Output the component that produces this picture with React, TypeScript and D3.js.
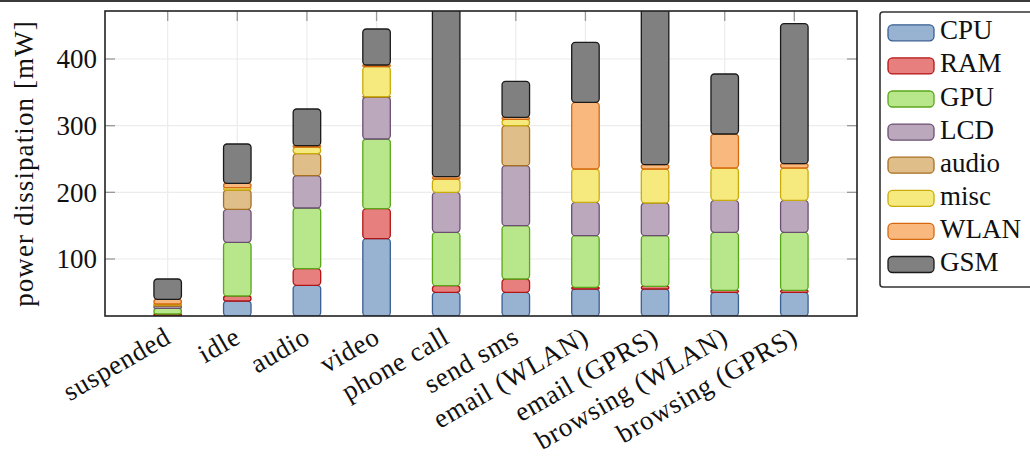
import React from 'react';
import * as d3 from 'd3';

const categories = ['suspended', 'idle', 'audio', 'video', 'phone call', 'send sms', 'email (WLAN)', 'email (GPRS)', 'browsing (WLAN)', 'browsing (GPRS)'];
const seriesNames = ['CPU', 'RAM', 'GPU', 'LCD', 'audio', 'misc', 'WLAN', 'GSM'];
const cpu = [15.5, 37, 60.5, 130.5, 50, 50, 55, 55, 50, 50];
const ram = [2, 7.5, 25, 45, 10, 20, 2.5, 4, 3, 3];
const gpu = [8.5, 80.5, 91, 104.5, 80, 80, 77.5, 76, 87, 87];
const lcd = [3.5, 49.5, 48.5, 63, 60, 90, 50, 49, 48, 48];
const audio = [1.5, 29, 33, 0.5, 0, 60, 0, 0, 0, 0];
const misc = [1.5, 3.5, 10, 45, 20, 9.5, 50, 51, 48.5, 48.5];
const wlan = [7, 6.5, 2, 2.5, 3.5, 3, 100, 6.5, 51, 6.5];
const gsm = [30.5, 59, 55, 54, 900, 54, 90, 400, 90, 210];
const yTicks = [100, 200, 300, 400];
const fills = ['#98b2d1', '#e77f7f', '#b8e68a', '#bba8bc', '#dfbe8a', '#f6e97e', '#f9b97e', '#808080'];
const strokes = ['#3b5f92', '#b21414', '#5aa61a', '#6b4f72', '#a66f20', '#c8ac0c', '#d6680f', '#1a1a1a'];

const W = 1030, H = 459;
const L = 105, R = 857, T = 11, B = 316;
const FONT = '"Liberation Serif", "Times New Roman", serif';
const FS = 27;

export default function App() {
  const seriesVals = [cpu, ram, gpu, lcd, audio, misc, wlan, gsm];
  const table = categories.map((c, i) => {
    const row: any = { cat: c };
    seriesNames.forEach((s, k) => { row[s] = seriesVals[k][i]; });
    return row;
  });
  const stacked = d3.stack<any>().keys(seriesNames)(table);
  const yMin = 14.5, yMax = 472;
  const y = d3.scaleLinear().domain([yMin, yMax]).range([B, T]);
  const x = d3.scalePoint<string>().domain(categories).range([L, R]).padding(0.9);
  const bw = 27.5;

  return (
    <svg width={W} height={H} style={{ position: 'absolute', left: 0, top: 0, background: '#fff' }}>
      <defs>
        <clipPath id="plotclip">
          <rect x={L} y={T} width={R - L} height={B - T} />
        </clipPath>
      </defs>
      <rect x={0} y={0} width={W} height={H} fill="#fff" />
      <line x1={0} x2={W} y1={1} y2={1} stroke="#3a3a3a" strokeWidth={2} />
      {/* grid */}
      {yTicks.map(t => (
        <line key={'gy' + t} x1={L} x2={R} y1={y(t)} y2={y(t)} stroke="#ececec" strokeWidth={1.2} />
      ))}
      {categories.map(c => (
        <line key={'gx' + c} x1={x(c)} x2={x(c)} y1={T} y2={B} stroke="#ececec" strokeWidth={1.2} />
      ))}
      {/* ticks */}
      {yTicks.map(t => (
        <g key={'ty' + t}>
          <line x1={L} x2={L + 10} y1={y(t)} y2={y(t)} stroke="#9a9a9a" strokeWidth={1.3} />
          <line x1={R - 10} x2={R} y1={y(t)} y2={y(t)} stroke="#9a9a9a" strokeWidth={1.3} />
          <text x={97} y={y(t)} dy="0.34em" textAnchor="end" fontFamily={FONT} fontSize={FS} fill="#111">{t}</text>
        </g>
      ))}
      {categories.map(c => (
        <line key={'tx' + c} x1={x(c)} x2={x(c)} y1={T} y2={T + 10} stroke="#9a9a9a" strokeWidth={1.3} />
      ))}
      {/* bars */}
      <g clipPath="url(#plotclip)">
        {stacked.map((s, k) => (
          <g key={s.key}>
            {s.map((d, i) => {
              if (d[1] - d[0] <= 0) return null;
              const lo = Math.max(d[0], yMin);
              const y0 = y(lo), y1 = y(d[1]);
              const h = Math.max(y0 - y1, 0.3);
              const cx = x(categories[i]) as number;
              const r = Math.min(3.5, h / 2);
              return (
                <rect key={i} x={cx - bw / 2} y={y1} width={bw} height={h} rx={r} ry={r}
                  fill={fills[k]} stroke={strokes[k]} strokeWidth={1.3} />
              );
            })}
          </g>
        ))}
      </g>
      {/* frame */}
      <rect x={L} y={T} width={R - L} height={B - T} fill="none" stroke="#222" strokeWidth={1.6} />
      {/* x labels */}
      {categories.map(c => (
        <text key={'xl' + c} transform={`translate(${(x(c) as number) + 5},342) rotate(-30)`} textAnchor="end"
          fontFamily={FONT} fontSize={FS} letterSpacing={0.7} fill="#111">{c}</text>
      ))}
      {/* y label */}
      <text transform={`translate(33,${(T + B) / 2}) rotate(-90)`} textAnchor="middle" fontFamily={FONT} fontSize={FS} letterSpacing={1.1} fill="#111">power dissipation [mW]</text>
      {/* legend */}
      <rect x={880} y={12} width={170} height={275} rx={3} fill="#fff" stroke="#333" strokeWidth={1.6} />
      {seriesNames.map((s, k) => {
        const cy = 32.8 + 33.1 * k;
        return (
          <g key={'lg' + s}>
            <rect x={888} y={cy - 8} width={46} height={16} rx={4.5} fill={fills[k]} stroke={strokes[k]} strokeWidth={1.3} />
            <text x={940} y={cy + 6.5} fontFamily={FONT} fontSize={FS} fill="#111">{s}</text>
          </g>
        );
      })}
    </svg>
  );
}
